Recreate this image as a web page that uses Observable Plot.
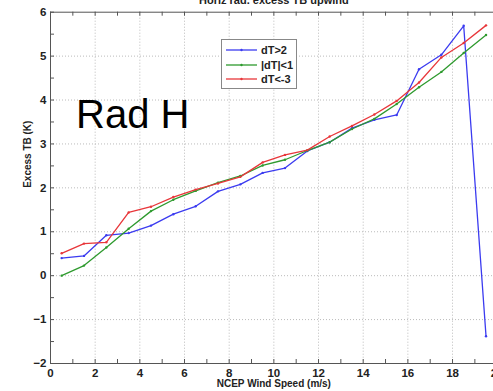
<!DOCTYPE html>
<html>
<head>
<meta charset="utf-8">
<script src="https://cdn.jsdelivr.net/npm/d3@7"></script>
<script src="https://cdn.jsdelivr.net/npm/@observablehq/plot@0.6"></script>
<style>
  html, body { margin: 0; padding: 0; background: #fff; overflow: hidden; }
  #wrap { position: relative; width: 493px; height: 391px; overflow: hidden; }
  #wrap > svg { max-width: none !important; width: 510px; height: 391px; display: block; }
  #legend { position: absolute; left: 221px; top: 39px; width: 74px; height: 48px;
    border: 1px solid #888; background: #fff; font: bold 11px "Liberation Sans", Arial, sans-serif; color: #222; }
  #legend .row { position: absolute; left: 4px; height: 14px; display: flex; align-items: center; }
  #legend svg { display: block; margin-right: 4px; }
  #radh { position: absolute; left: 76px; top: 94px; font: 40px "Liberation Sans", Arial, sans-serif; color: #000; line-height: 1; }
</style>
</head>
<body>
<div id="wrap"></div>
<script>
// Data
const windSpeed = [0.5,1.5,2.5,3.5,4.5,5.5,6.5,7.5,8.5,9.5,10.5,11.5,12.5,13.5,14.5,15.5,16.5,17.5,18.5,19.5];
const seriesNames = ["dT>2", "|dT|<1", "dT<-3"];
const seriesColors = ["#3b3bf0", "#2e9a2e", "#e8363a"];
const dTgt2  = [0.40,0.45,0.92,0.97,1.14,1.40,1.58,1.92,2.08,2.34,2.45,2.84,3.04,3.36,3.55,3.66,4.70,5.03,5.69,-1.38];
const dTabs1 = [0.00,0.23,0.64,1.07,1.47,1.73,1.93,2.12,2.27,2.51,2.64,2.85,3.04,3.34,3.57,3.91,4.29,4.64,5.07,5.48];
const dTltm3 = [0.51,0.73,0.76,1.44,1.57,1.79,1.96,2.10,2.25,2.58,2.75,2.86,3.17,3.41,3.67,3.98,4.40,4.97,5.30,5.70];
const xTicks = [0,2,4,6,8,10,12,14,16,18,20];
const yTicks = [-2,-1,0,1,2,3,4,5,6];
const xMinorTicks = d3.range(0, 21, 1);
const yMinorTicks = d3.range(-2, 6.01, 0.5);
const title = "Horiz rad. excess TB upwind";
const xLabel = "NCEP Wind Speed (m/s)";
const yLabel = "Excess TB (K)";
const annotation = "Rad H";

const seriesValues = [dTgt2, dTabs1, dTltm3];
const rows = [];
seriesValues.forEach((vals, si) => vals.forEach((v, i) => rows.push({series: seriesNames[si], x: windSpeed[i], y: v})));

const W = 510, H = 391, mL = 50, mR = 13.3, mT = 11.7, mB = 28;
const plotW = W - mL - mR, plotH = H - mT - mB;
const font = "Liberation Sans, Arial, sans-serif";

const chart = Plot.plot({
  width: W, height: H,
  marginLeft: mL, marginRight: mR, marginTop: mT, marginBottom: mB,
  style: {fontFamily: font, background: "#fff", overflow: "visible", maxWidth: "none"},
  x: {domain: [0, 20]},
  y: {domain: [-2, 6]},
  color: {domain: seriesNames, range: seriesColors},
  marks: [
    Plot.gridX(xTicks.slice(1, -1), {stroke: "#bbb", strokeOpacity: 1, strokeDasharray: "1,2"}),
    Plot.gridY(yTicks.slice(1, -1), {stroke: "#bbb", strokeOpacity: 1, strokeDasharray: "1,2"}),
    Plot.tickX(xMinorTicks, {x: d => d, insetTop: plotH - 4, stroke: "#555"}),
    Plot.tickX(xMinorTicks, {x: d => d, insetBottom: plotH - 4, stroke: "#555"}),
    Plot.tickY(yMinorTicks, {y: d => d, insetRight: plotW - 4, stroke: "#555"}),
    Plot.frame({stroke: "#555"}),
    Plot.axisX(xTicks, {tickSize: 0, tickPadding: 5, fontSize: 11.5, fontWeight: "bold", fill: "#222", label: null}),
    Plot.axisY(yTicks, {tickSize: 0, tickPadding: 4, fontSize: 11.5, fontWeight: "bold", fill: "#222", label: null}),
    Plot.line(rows, {x: "x", y: "y", z: "series", stroke: "series", strokeWidth: 1.3}),
    Plot.dot(rows, {x: "x", y: "y", fill: "series", r: 1.2}),
    Plot.text([title], {text: d => d, frameAnchor: "top", dy: -8.5, lineAnchor: "bottom", fontSize: 11, fontWeight: "bold", fill: "#222"}),
    Plot.text([xLabel], {text: d => d, frameAnchor: "bottom", dy: 16, lineAnchor: "top", fontSize: 10, fontWeight: "bold", fill: "#222"}),
    Plot.text([yLabel], {text: d => d, frameAnchor: "left", dx: -23, rotate: -90, fontSize: 10, fontWeight: "bold", fill: "#222"})
  ]
});

const wrap = document.getElementById("wrap");
wrap.appendChild(chart);

// legend
const legend = document.createElement("div");
legend.id = "legend";
seriesNames.forEach((name, i) => {
  const row = document.createElement("div");
  row.className = "row";
  row.style.top = (3 + i * 14.5) + "px";
  const c = seriesColors[i];
  row.innerHTML = `<svg width="31" height="6"><line x1="0" y1="3" x2="31" y2="3" stroke="${c}" stroke-width="1.3"/><circle cx="15.5" cy="3" r="1.2" fill="${c}"/></svg><span>${name}</span>`;
  legend.appendChild(row);
});
wrap.appendChild(legend);

const rad = document.createElement("div");
rad.id = "radh";
rad.textContent = annotation;
wrap.appendChild(rad);
</script>
</body>
</html>
